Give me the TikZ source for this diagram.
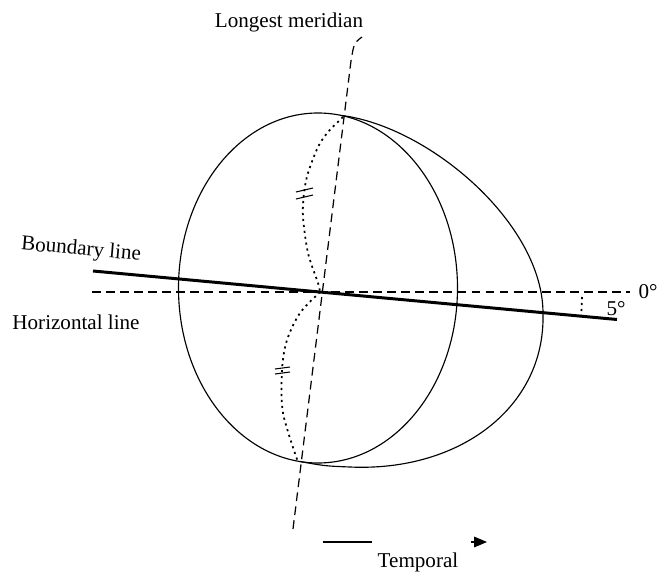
\documentclass[tikz,border=0pt]{standalone}
\usepackage{fontspec}
\setmainfont{Liberation Serif}
\usepackage{tikz}
\usetikzlibrary{arrows,calc}

\begin{document}
\begin{tikzpicture}[font=\fontsize{12}{14}\selectfont,
  thinline/.style={line width=0.65pt},
  dashline/.style={line width=0.7pt,dash pattern=on 5pt off 3pt},
  dotline/.style={line width=1pt,dash pattern=on 1.2pt off 2.2pt},
  tickmark/.style={line width=0.6pt}]
\useasboundingbox (-6.4,-5.78) rectangle (6.78,5.84);
\coordinate (O) at (0,0);
\coordinate (M1) at (-0.54,-4.74);
\coordinate (M2) at (0.62,4.62);
\coordinate (M3) at (0.84,5.1);
\coordinate (H1) at (-4.56,0);
\coordinate (H2) at (6.2,0);
\coordinate (B1) at (-4.54,0.42);
\coordinate (B2) at (5.94,-0.55);
\coordinate (E1) at (0.44,3.53);
\coordinate (E2) at (4.46,-0.45);
\coordinate (E3) at (0.6,-3.5);
\coordinate (E4) at (-0.4,-3.39);
\coordinate (T1) at (0.06,-5.0);
\coordinate (T2) at (1.04,-5.0);
\coordinate (T3) at (3.02,-5.0);
\coordinate (T4) at (3.34,-5.0);
\draw[thinline] (-0.04,0.08) ellipse (2.79 and 3.5);
\draw[thinline] (E1) .. controls (2.2,3.3) and (4.48,1.35) .. (E2)
  .. controls (4.5,-2.3) and (2.8,-3.6) .. (E3)
  .. controls (0.1,-3.48) .. (E4);
\draw[dashline] (M1) -- (M2) .. controls (0.68,4.98) .. (M3);
\draw[dashline] (H1) -- (H2);
\draw[line width=1.7pt] (B1) -- (B2);
\draw[dotline] plot[smooth] coordinates {(0.46,3.5) (0.16,3.2) (-0.04,2.9) (-0.24,2.38) (-0.32,1.98) (-0.34,1.5) (-0.24,0.78) (-0.04,0.18) (O)};
\draw[dotline] plot[smooth] coordinates {(O) (-0.4,-0.42) (-0.66,-0.96) (-0.76,-1.56) (-0.74,-2.42) (-0.44,-3.4)};
\foreach \y in {2.04,1.9}
  \draw[tickmark] (-0.48,\y-0.04) -- (-0.14,\y+0.04);
\foreach \y in {-1.52,-1.62}
  \draw[tickmark] (-0.9,\y-0.02) -- (-0.6,\y+0.02);
\draw[dotline] (5.24,-0.1) arc (-1:-5:5.24);
\draw[thinline] (T1) -- (T2);
\draw[thinline,->,>=triangle 45] (T3) -- (T4);
\node (merid) at (-0.62,5.4) {Longest meridian};
\node[rotate=-5] (bound) at (-4.78,0.84) {Boundary line};
\node (horiz) at (-4.88,-0.6) {Horizontal line};
\node (zero) at (6.56,0) {0\textdegree};
\node (five) at (5.92,-0.33) {5\textdegree};
\node (temp) at (1.96,-5.4) {Temporal};
\end{tikzpicture}
\end{document}
